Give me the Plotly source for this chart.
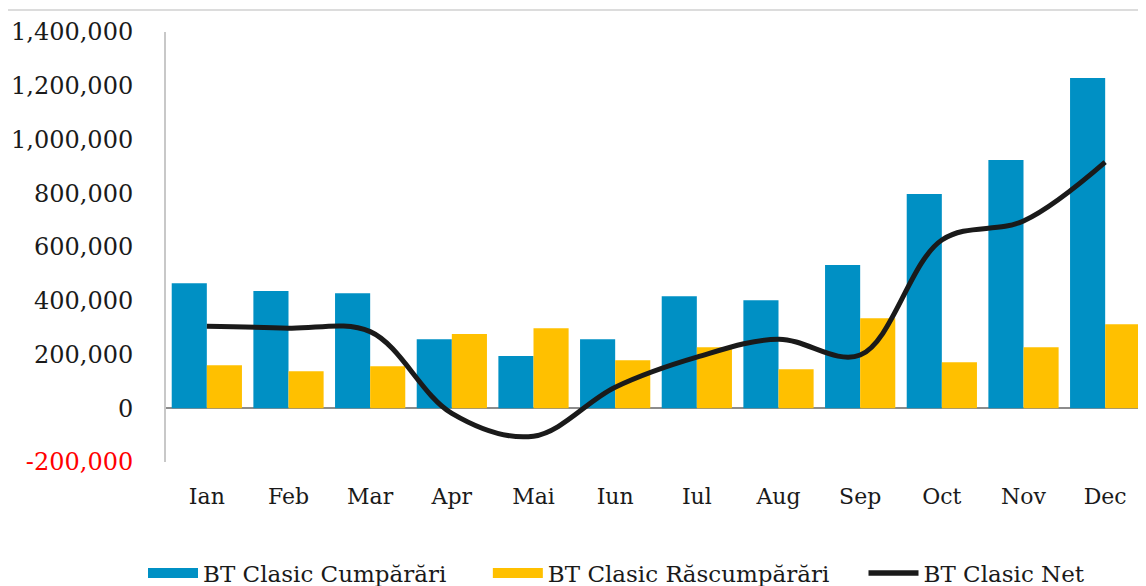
import plotly.graph_objects as go

months = ["Ian", "Feb", "Mar", "Apr", "Mai", "Iun", "Iul", "Aug", "Sep", "Oct", "Nov", "Dec"]
cumparari = [465000, 436000, 428000, 257000, 194000, 257000, 417000, 402000, 533000, 797000, 924000, 1229000]
rascumparari = [160000, 138000, 156000, 276000, 298000, 179000, 227000, 145000, 335000, 171000, 227000, 313000]
net = [305000, 298000, 285000, -19000, -104000, 78000, 190000, 257000, 198000, 626000, 697000, 916000]

y_tickvals = [-200000, 0, 200000, 400000, 600000, 800000, 1000000, 1200000, 1400000]
y_ticktext = ['<span style="color:#ff0000">-200,000</span>', "0", "200,000", "400,000", "600,000",
              "800,000", "1,000,000", "1,200,000", "1,400,000"]

BLUE = "#0090C4"
YELLOW = "#FFC000"
BLACK = "#1a1a1a"
FONT = "DejaVu Serif"
PAD = "\u00a0"

fig = go.Figure()
fig.add_trace(go.Bar(x=months, y=cumparari, marker_color=BLUE, name="BT Clasic Cumpărări",
                     showlegend=False, marker_line_width=0))
fig.add_trace(go.Bar(x=months, y=rascumparari, marker_color=YELLOW, name="BT Clasic Răscumpărări",
                     showlegend=False, marker_line_width=0))
fig.add_trace(go.Scatter(x=months, y=net, mode="lines", line=dict(color=BLACK, width=5, shape="spline", smoothing=1.0),
                         name="BT Clasic Net", showlegend=False))

# legend entries
fig.add_trace(go.Scatter(x=[None], y=[None], mode="lines", line=dict(color=BLUE, width=12),
                         name="BT Clasic Cumpărări" + PAD * 5))
fig.add_trace(go.Scatter(x=[None], y=[None], mode="lines", line=dict(color=YELLOW, width=12),
                         name="BT Clasic Răscumpărări" + PAD * 4))
fig.add_trace(go.Scatter(x=[None], y=[None], mode="lines", line=dict(color=BLACK, width=5.5),
                         name="BT Clasic Net"))

PLOT_W = 980
fig.update_layout(
    width=158 + PLOT_W, height=578,
    margin=dict(l=158, r=0, t=24, b=124, autoexpand=False),
    paper_bgcolor="white", plot_bgcolor="white",
    barmode="group", bargap=0.14, bargroupgap=0,
    font=dict(family=FONT, size=24, color="#1a1a1a"),
    legend=dict(orientation="h", x=-23 / PLOT_W, xanchor="left", y=-0.258, yanchor="middle",
                font=dict(family=FONT, size=23), itemwidth=50, traceorder="normal"),
    xaxis=dict(showgrid=False, showline=False, zeroline=False, ticks="outside", ticklen=15,
               tickcolor="rgba(0,0,0,0)", tickfont=dict(family=FONT, size=22)),
    yaxis=dict(range=[-200000, 1400000], tickvals=y_tickvals, ticktext=y_ticktext,
               showgrid=False, showline=True, linecolor="#c8c8c8", linewidth=2,
               zeroline=True, zerolinecolor="#8c8c8c", zerolinewidth=2,
               ticks="outside", ticklen=26, tickcolor="rgba(0,0,0,0)",
               tickfont=dict(family=FONT, size=24)),
    shapes=[dict(type="line", xref="paper", yref="paper", x0=-158 / PLOT_W, x1=1, y0=1.0512, y1=1.0512,
                 line=dict(color="#d0d0d0", width=1.5))],
)

fig.write_html("out.html")
